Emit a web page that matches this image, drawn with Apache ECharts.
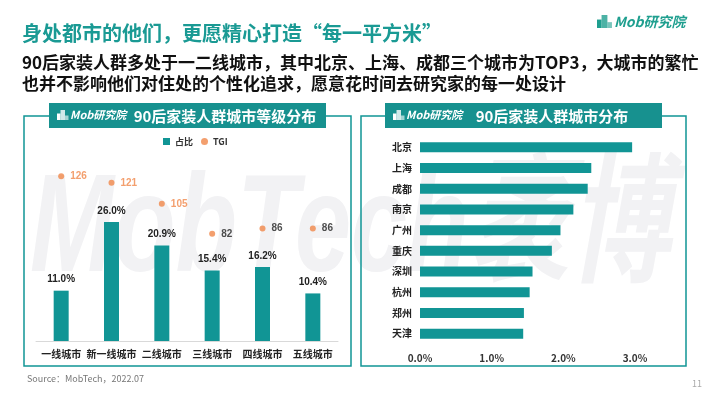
<!DOCTYPE html>
<html>
<head>
<meta charset="utf-8">
<script src="https://cdn.jsdelivr.net/npm/echarts@6/dist/echarts.min.js"></script>
<style>
  html, body { margin: 0; padding: 0; background: #fff; }
  #main { width: 710px; height: 399px; }
</style>
</head>
<body>
<div id="main"></div>
<script>
// 左图：城市等级
const levelNames = ['一线城市', '新一线城市', '二线城市', '三线城市', '四线城市', '五线城市'];
const levelShare = [11.0, 26.0, 20.9, 15.4, 16.2, 10.4];
const levelTgi = [126, 121, 105, 82, 86, 86];
// 右图：城市分布（%）
const cityNames = ['北京', '上海', '成都', '南京', '广州', '重庆', '深圳', '杭州', '郑州', '天津'];
const cityShare = [2.96, 2.39, 2.34, 2.14, 1.96, 1.84, 1.57, 1.53, 1.45, 1.44];
const cityTicks = [0, 1, 2, 3];

const teal = '#119595';
const orange = '#f0874a';
const cjk = '"Noto Sans CJK SC", "Noto Sans", sans-serif';

let chart = echarts.init(document.getElementById('main'));

function logo(x, y, size, color) {
    return [
        {type: 'rect', shape: {x: x, y: y + size * 0.35, width: size * 0.35, height: size * 0.65}, style: {fill: color}, z: 5},
        {type: 'rect', shape: {x: x + size * 0.35, y: y, width: size * 0.45, height: size}, style: {fill: color, opacity: 0.8}, z: 5},
        {type: 'rect', shape: {x: x + size * 0.8, y: y + size * 0.55, width: size * 0.35, height: size * 0.45}, style: {fill: color, opacity: 0.6}, z: 5},
        {type: 'text', x: x + size * 1.3, y: y + size / 2, style: {text: 'Mob研究院', fill: color, font: 'italic bold ' + Math.round(size * 1.05) + 'px ' + cjk, textVerticalAlign: 'middle'}, z: 5}
    ];
}

let graphics = [
    // 水印
    {type: 'text', x: 30, y: 232, scaleX: 0.72, style: {text: 'MobTech袤博', fill: '#f2f2f4', font: 'italic bold 140px "Liberation Sans", "Noto Sans CJK SC", sans-serif', textVerticalAlign: 'middle'}, z: 0},
    {type: 'text', x: 22, y: 33, style: {text: '身处都市的他们，更愿精心打造“每一平方米”', fill: '#1a9a94', font: 'bold 20px ' + cjk, textVerticalAlign: 'middle'}, z: 5},
    {type: 'text', x: 22, y: 63, style: {text: '90后家装人群多处于一二线城市，其中北京、上海、成都三个城市为TOP3，大城市的繁忙', fill: '#111', font: 'bold 17px ' + cjk, textVerticalAlign: 'middle'}, z: 5},
    {type: 'text', x: 22, y: 84, style: {text: '也并不影响他们对住处的个性化追求，愿意花时间去研究家的每一处设计', fill: '#111', font: 'bold 17px ' + cjk, textVerticalAlign: 'middle'}, z: 5},
    // 面板边框
    {type: 'rect', shape: {x: 24, y: 116, width: 327, height: 250}, style: {fill: 'none', stroke: teal, lineWidth: 1.5}, z: 1},
    {type: 'rect', shape: {x: 361, y: 116, width: 325, height: 250}, style: {fill: 'none', stroke: teal, lineWidth: 1.5}, z: 1},
    {type: 'rect', shape: {x: 49, y: 103, width: 277, height: 25}, style: {fill: '#17918f'}, z: 4},
    {type: 'rect', shape: {x: 385, y: 103, width: 277, height: 25}, style: {fill: '#17918f'}, z: 4},
    {type: 'text', x: 225, y: 116, style: {text: '90后家装人群城市等级分布', fill: '#fff', font: 'bold 15px ' + cjk, textAlign: 'center', textVerticalAlign: 'middle'}, z: 5},
    {type: 'text', x: 552, y: 116, style: {text: '90后家装人群城市分布', fill: '#fff', font: 'bold 15px ' + cjk, textAlign: 'center', textVerticalAlign: 'middle'}, z: 5},
    {type: 'text', x: 27, y: 379, style: {text: 'Source：MobTech，2022.07', fill: '#777', font: '9px ' + cjk, textVerticalAlign: 'middle'}, z: 5},
    {type: 'text', x: 692, y: 384, style: {text: '11', fill: '#aaa', font: '9px ' + cjk, textVerticalAlign: 'middle'}, z: 5}
];
graphics = graphics.concat(logo(597, 15, 13, '#1f9f8f'));
graphics = graphics.concat(logo(57, 110, 10, '#fff'));
graphics = graphics.concat(logo(393, 110, 10, '#fff'));

let option = {
    animation: false,
    backgroundColor: '#fff',
    graphic: graphics,
    legend: {
        data: [{name: '占比', icon: 'rect'}, {name: 'TGI', icon: 'circle'}],
        left: 158,
        top: 132,
        itemWidth: 7,
        itemHeight: 7,
        itemGap: 8,
        textStyle: {fontSize: 9, fontWeight: 'bold', color: '#333', fontFamily: cjk}
    },
    grid: [
        {left: 36, top: 158, width: 302, height: 183},
        {left: 420, top: 137, width: 215, height: 207}
    ],
    xAxis: [
        {
            type: 'category', gridIndex: 0, data: levelNames,
            axisLine: {lineStyle: {color: '#d9d9d9'}},
            axisTick: {show: false},
            axisLabel: {margin: 8, fontSize: 10, fontWeight: 'bold', color: '#222', fontFamily: cjk, interval: 0}
        },
        {
            type: 'value', gridIndex: 1, min: 0, max: 3, interval: 1,
            axisLine: {show: false}, axisTick: {show: false}, splitLine: {show: false},
            axisLabel: {margin: 9, fontSize: 10, fontWeight: 'bold', color: '#333', fontFamily: cjk,
                formatter: v => cityTicks.indexOf(v) >= 0 ? v.toFixed(1) + '%' : ''}
        }
    ],
    yAxis: [
        {type: 'value', gridIndex: 0, min: 0, max: 40, show: false},
        {type: 'value', gridIndex: 0, min: 0, max: 140, show: false},
        {
            type: 'category', gridIndex: 1, data: cityNames, inverse: true,
            axisLine: {show: false}, axisTick: {show: false},
            axisLabel: {margin: 8, fontSize: 10, fontWeight: 'bold', color: '#222', fontFamily: cjk}
        }
    ],
    series: [
        {
            name: '占比', type: 'bar', xAxisIndex: 0, yAxisIndex: 0,
            data: levelShare, barWidth: 15,
            itemStyle: {color: teal},
            label: {show: true, position: 'top', distance: 6, fontSize: 10, fontWeight: 'bold', color: '#222',
                formatter: p => p.value.toFixed(1) + '%'},
            z: 3
        },
        {
            name: 'TGI', type: 'scatter', xAxisIndex: 0, yAxisIndex: 1,
            data: levelTgi.map(v => ({value: v, label: {color: v > 100 ? orange : '#222'}})),
            symbolSize: 6,
            itemStyle: {color: orange},
            label: {show: true, position: 'right', distance: 6, fontSize: 10, fontWeight: 'bold'},
            z: 3
        },
        {
            name: '城市', type: 'bar', xAxisIndex: 1, yAxisIndex: 2,
            data: cityShare, barWidth: 10,
            itemStyle: {color: teal},
            z: 3
        }
    ]
};
chart.setOption(option);
</script>
</body>
</html>
